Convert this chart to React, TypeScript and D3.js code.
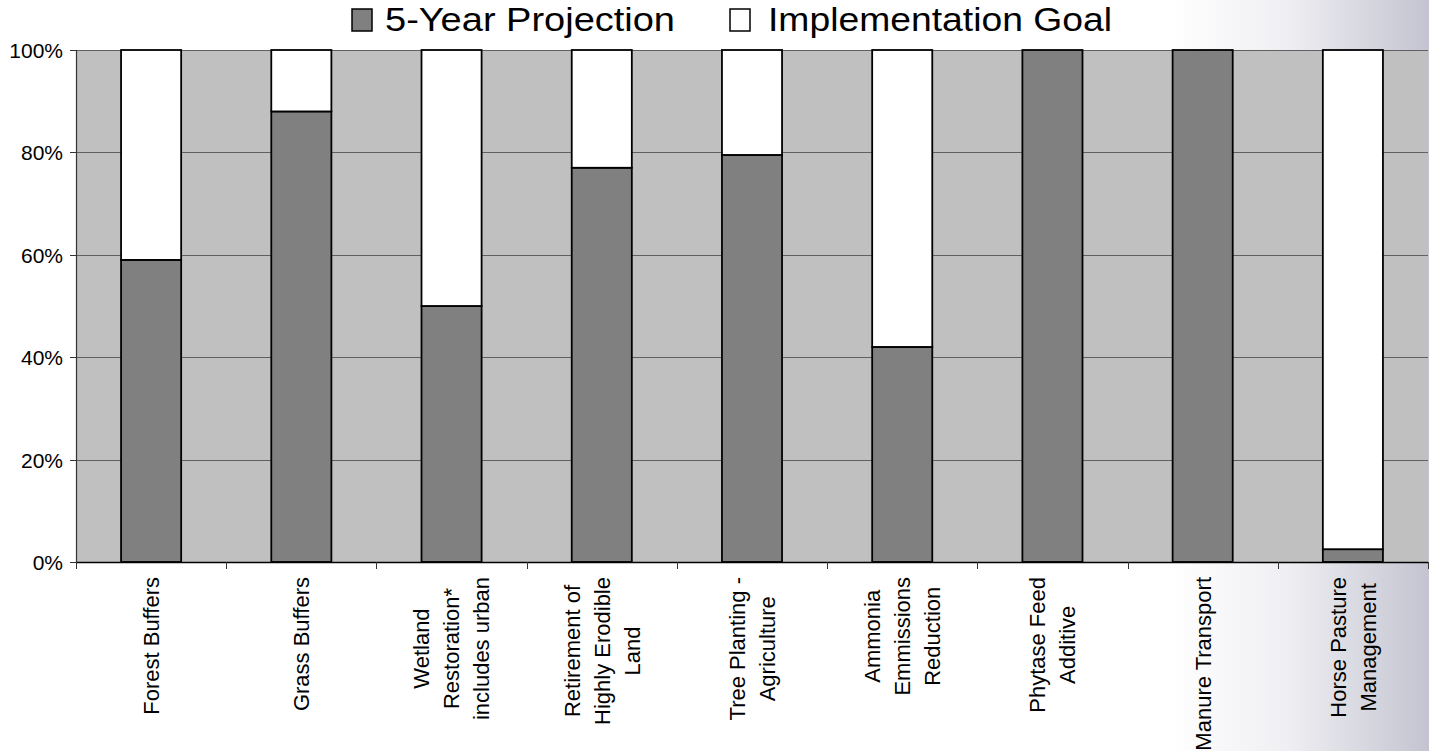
import React, { useEffect, useRef } from "react";
import * as d3 from "d3";

const categories = [
  "Forest Buffers",
  "Grass Buffers",
  "Wetland Restoration* includes urban",
  "Retirement of Highly Erodible Land",
  "Tree Planting - Agriculture",
  "Ammonia Emmissions Reduction",
  "Phytase Feed Additive",
  "Manure Transport",
  "Horse Pasture Management",
];

const categoryLines = [
  ["Forest Buffers"],
  ["Grass Buffers"],
  ["Wetland", "Restoration*", "includes urban"],
  ["Retirement of", "Highly Erodible", "Land"],
  ["Tree Planting -", "Agriculture"],
  ["Ammonia", "Emmissions", "Reduction"],
  ["Phytase Feed", "Additive"],
  ["Manure Transport"],
  ["Horse Pasture", "Management"],
];

const projection = [0.59, 0.88, 0.5, 0.77, 0.795, 0.42, 1.0, 1.0, 0.025];
const implementationGoal = [0.41, 0.12, 0.5, 0.23, 0.205, 0.58, 0, 0, 0.975];

const seriesNames = ["5-Year Projection", "Implementation Goal"];
const yTicks = [0, 0.2, 0.4, 0.6, 0.8, 1];
const yTickLabels = ["0%", "20%", "40%", "60%", "80%", "100%"];

const W = 1429;
const H = 751;
const FONT = "'Liberation Sans', Arial, Helvetica, sans-serif";

export default function App() {
  const ref = useRef<SVGSVGElement | null>(null);

  useEffect(() => {
    document.body.style.margin = "0";
    const svg = d3.select(ref.current);
    svg.selectAll("*").remove();

    const left = 76, right = 1428, top = 50, bottom = 562;

    // background gradient on right
    const defs = svg.append("defs");
    const grad = defs
      .append("linearGradient")
      .attr("id", "bgGrad")
      .attr("x1", "0").attr("x2", "1").attr("y1", "0").attr("y2", "0");
    grad.append("stop").attr("offset", "0%").attr("stop-color", "#ffffff");
    grad.append("stop").attr("offset", "45%").attr("stop-color", "#efeff3");
    grad.append("stop").attr("offset", "100%").attr("stop-color", "#c3c4d0");

    svg.append("rect").attr("x", 0).attr("y", 0).attr("width", W).attr("height", H).attr("fill", "#ffffff");
    svg.append("rect").attr("x", 1170).attr("y", 0).attr("width", W - 1170).attr("height", H).attr("fill", "url(#bgGrad)");

    const x = d3.scaleBand<string>().domain(categories).range([left, right]).paddingInner(0.6).paddingOuter(0.3);
    const y = d3.scaleLinear().domain([0, 1]).range([bottom, top]);

    // plot area
    svg.append("rect")
      .attr("x", left).attr("y", top)
      .attr("width", right - left).attr("height", bottom - top)
      .attr("fill", "#c0c0c0");

    // gridlines
    svg.append("g").selectAll("line").data(yTicks.filter((t) => t > 0)).join("line")
      .attr("x1", left).attr("x2", right)
      .attr("y1", (d) => Math.round(y(d)) + 0.5).attr("y2", (d) => Math.round(y(d)) + 0.5)
      .attr("stroke", "#606060").attr("stroke-width", 1);

    // bars
    const gBars = svg.append("g");
    categories.forEach((c, i) => {
      const bx = x(c)!;
      const bw = x.bandwidth();
      const p = projection[i];
      const g = implementationGoal[i];
      if (p > 0) {
        gBars.append("rect")
          .attr("x", bx).attr("y", y(p))
          .attr("width", bw).attr("height", y(0) - y(p))
          .attr("fill", "#808080").attr("stroke", "#000").attr("stroke-width", 1.8);
      }
      if (g > 0) {
        gBars.append("rect")
          .attr("x", bx).attr("y", y(p + g))
          .attr("width", bw).attr("height", y(p) - y(p + g))
          .attr("fill", "#ffffff").attr("stroke", "#000").attr("stroke-width", 1.8);
      }
    });

    // y axis
    svg.append("line").attr("x1", left + 0.5).attr("x2", left + 0.5).attr("y1", top).attr("y2", bottom)
      .attr("stroke", "#333").attr("stroke-width", 1.2);
    const yg = svg.append("g");
    yTicks.forEach((t, i) => {
      const yy = Math.round(y(t)) + 0.5;
      yg.append("line").attr("x1", left - 6).attr("x2", left).attr("y1", yy).attr("y2", yy)
        .attr("stroke", "#333").attr("stroke-width", 1);
      yg.append("text").attr("x", 63).attr("y", yy).attr("dy", "0.36em")
        .attr("text-anchor", "end").attr("font-family", FONT).attr("font-size", 21)
        .attr("fill", "#000").text(yTickLabels[i]);
    });

    // x axis
    svg.append("line").attr("x1", left).attr("x2", right).attr("y1", bottom + 0.5).attr("y2", bottom + 0.5)
      .attr("stroke", "#000").attr("stroke-width", 1.5);
    const step = x.step();
    const bounds = d3.range(categories.length + 1).map((i) => left + i * step);
    svg.append("g").selectAll("line").data(bounds).join("line")
      .attr("x1", (d) => Math.round(d) + 0.5).attr("x2", (d) => Math.round(d) + 0.5)
      .attr("y1", bottom).attr("y2", bottom + 7)
      .attr("stroke", "#333").attr("stroke-width", 1);

    // category labels (rotated)
    const labelTop = 577;
    const lineGap = 30;
    const lg = svg.append("g");
    categories.forEach((c, i) => {
      const cx = x(c)! + x.bandwidth() / 2;
      const lines = categoryLines[i];
      const texts = lines.map((ln, j) => {
        const lx = cx + (j - (lines.length - 1) / 2) * lineGap;
        return lg.append("text")
          .attr("font-family", FONT).attr("font-size", 22).attr("fill", "#000")
          .attr("text-anchor", "middle")
          .attr("dy", "0.36em")
          .text(ln)
          .datum(lx);
      });
      const lens = texts.map((t) => (t.node() as SVGTextElement).getComputedTextLength());
      const maxLen = d3.max(lens) || 0;
      const cy = labelTop + maxLen / 2;
      texts.forEach((t) => {
        const lx = t.datum() as number;
        t.attr("transform", `translate(${lx},${cy}) rotate(-90)`);
      });
    });

    // legend
    const leg = svg.append("g");
    leg.append("rect").attr("x", 352).attr("y", 9).attr("width", 20).attr("height", 22)
      .attr("fill", "#808080").attr("stroke", "#000").attr("stroke-width", 1.5);
    leg.append("text").attr("x", 385).attr("y", 31)
      .attr("font-family", FONT).attr("font-size", 33).attr("fill", "#000")
      .attr("textLength", 290).attr("lengthAdjust", "spacingAndGlyphs")
      .text(seriesNames[0]);
    leg.append("rect").attr("x", 730).attr("y", 9).attr("width", 20).attr("height", 22)
      .attr("fill", "#ffffff").attr("stroke", "#000").attr("stroke-width", 1.5);
    leg.append("text").attr("x", 768).attr("y", 31)
      .attr("font-family", FONT).attr("font-size", 33).attr("fill", "#000")
      .attr("textLength", 344).attr("lengthAdjust", "spacingAndGlyphs")
      .text(seriesNames[1]);
  }, []);

  return (
    <svg
      ref={ref}
      width={W}
      height={H}
      style={{ position: "absolute", left: 0, top: 0, display: "block" }}
    />
  );
}
